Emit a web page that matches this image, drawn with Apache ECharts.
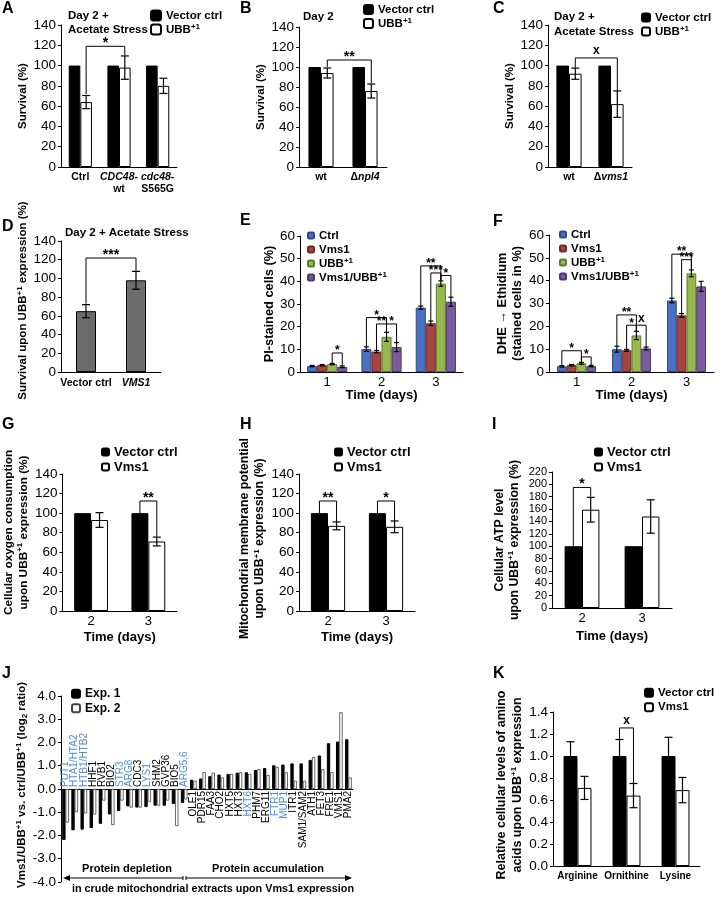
<!DOCTYPE html>
<html>
<head>
<meta charset="utf-8">
<script src="https://cdn.jsdelivr.net/npm/echarts@6/dist/echarts.min.js"></script>
<style>
  html, body { margin: 0; padding: 0; background: #fff; }
  #main { width: 721px; height: 898px; }
</style>
</head>
<body>
<div id="main"></div>
<script>
// ---- data ----
// A
const catsA = ['Ctrl', 'CDC48-wt', 'cdc48-S565G'];
const ctrlA = [100, 100, 100];
const ubbA = [64, 98, 80];
const ubbErrA = [6.5, 11.5, 7.5];
// B
const catsB = ['wt', 'npl4'];
const ctrlB = [100, 100];
const ubbB = [94, 76];
const ubbErrB = [5, 7];
// C
const catsC = ['wt', 'vms1'];
const ctrlC = [100, 100];
const ubbC = [92, 62];
const ubbErrC = [5.5, 13];
// D
const catsD = ['Vector ctrl', 'VMS1'];
const survD = [65, 98];
const survErrD = [7, 9.5];
// E (PI staining)
const days = ['1', '2', '3'];
const ctrlE = [2.6, 10.1, 28.4];
const ctrlErrE = [0.3, 1.0, 0.7];
const vmsE = [3.0, 9.0, 21.5];
const vmsErrE = [0.3, 0.5, 1.0];
const ubbE = [3.5, 15.5, 39.0];
const ubbErrE = [0.3, 2.0, 1.2];
const bothE = [2.3, 11.0, 31.0];
const bothErrE = [0.4, 2.0, 2.0];
// F (DHE -> ethidium)
const ctrlF = [2.5, 10.0, 31.3];
const ctrlErrF = [0.3, 1.3, 1.0];
const vmsF = [3.0, 9.5, 24.8];
const vmsErrF = [0.3, 0.4, 0.8];
const ubbF = [3.8, 16.0, 43.2];
const ubbErrF = [0.4, 1.8, 1.5];
const bothF = [2.6, 10.3, 37.5];
const bothErrF = [0.3, 0.6, 2.2];
// G, H, I
const daysGHI = ['2', '3'];
const ctrlG = [100, 100];
const vmsG = [93, 71];
const vmsErrG = [7.5, 4.5];
const ctrlH = [100, 100];
const vmsH = [87, 86];
const vmsErrH = [4, 6];
const ctrlI = [100, 100];
const vmsI = [159, 148];
const vmsErrI = [20, 27];
// J
const genesJ = ['PUT1', 'HTA1/HTA2', 'HTB1/HTB2', 'HHF1', 'RVB1', 'BIO2', 'STR3', 'ARG8', 'CDC3', 'LYS1',
  'SHM2', 'GVP36', 'BIO5', 'ARG5,6', 'OLE1', 'PDR15', 'FAA3', 'CHO2', 'HXT5', 'HXT3', 'HXT6', 'PHM7',
  'ERG11', 'FTR1', 'MUP1', 'ITR1', 'SAM1/SAM2', 'ATH1', 'FET3', 'FRE1', 'VMS1', 'PMA2'];
const exp1J = [-2.2, -1.78, -1.75, -1.68, -1.5, -1.1, -0.95, -0.75, -0.8, -0.78, -0.72, -0.72, -0.65, -0.6,
  0.4, 0.45, 0.55, 0.62, 0.65, 0.7, 0.72, 0.82, 0.9, 1.02, 1.05, 1.1, 1.1, 1.25, 1.44, 1.97, 2.04, 2.14];
const exp2J = [-1.45, -1.0, -1.05, -1.1, -0.5, -1.55, -0.5, -0.8, -0.8, -0.55, -0.72, -0.5, -1.6, -0.45,
  0.35, 0.73, 0.7, 0.5, 0.65, 0.72, 0.65, 0.85, 0.6, 0.95, 0.72, 0.35, 0.35, 1.37, 0.85, 0.72, 3.3, 0.49];
const blueGenes = ['PUT1', 'HTA1/HTA2', 'HTB1/HTB2', 'STR3', 'ARG8', 'LYS1', 'ARG5,6', 'HXT6', 'FTR1', 'MUP1'];
// K
const catsK = ['Arginine', 'Ornithine', 'Lysine'];
const ctrlK = [1.0, 1.0, 1.0];
const ctrlErrK = [0.13, 0.15, 0.17];
const vmsK = [0.71, 0.64, 0.69];
const vmsErrK = [0.105, 0.11, 0.115];

// ---- helpers ----
const FONT = '"Liberation Sans", Arial, Helvetica, sans-serif';
const BLUE = '#4a70c0', RED = '#a84440', GREEN = '#96b84e', PURPLE = '#7a5b9f';
const RICH = {
  sup: { fontSize: 8, fontWeight: 'bold', fontFamily: FONT, color: '#000', verticalAlign: 'top' },
  sub: { fontSize: 8, fontWeight: 'bold', fontFamily: FONT, color: '#000', verticalAlign: 'bottom' },
  i: { fontStyle: 'italic', fontWeight: 'bold', fontFamily: FONT, color: '#000', fontSize: 10.5 },
};
const legendNames = {
  'UBB+1': 'UBB{sup|+1}',
  'e-ctrl': 'Ctrl', 'e-vms': 'Vms1', 'e-ubb': 'UBB{sup|+1}', 'e-both': 'Vms1/UBB{sup|+1}',
};

const grids = [], xAxes = [], yAxes = [], series = [], legends = [];

function errRender(k, n, gap, cap) {
  return function (params, api) {
    const band = api.size([1, 0])[0];
    const group = band * (1 - gap);
    const bw = group / n;
    const x = api.coord([api.value(0), 0])[0] - group / 2 + (k + 0.5) * bw;
    const hi = api.coord([api.value(0), api.value(1) + api.value(2)])[1];
    const lo = api.coord([api.value(0), api.value(1) - api.value(2)])[1];
    const st = { stroke: '#000', lineWidth: 1.2 };
    return {
      type: 'group', children: [
        { type: 'line', shape: { x1: x, y1: hi, x2: x, y2: lo }, style: st },
        { type: 'line', shape: { x1: x - cap, y1: hi, x2: x + cap, y2: hi }, style: st },
        { type: 'line', shape: { x1: x - cap, y1: lo, x2: x + cap, y2: lo }, style: st },
      ],
    };
  };
}

function bracketRender(n, gap, list, size) {
  return function (params, api) {
    const b = list[params.dataIndex];
    const band = api.size([1, 0])[0];
    const group = band * (1 - gap);
    const bw = group / n;
    const xOf = (c, k) => api.coord([c, 0])[0] - group / 2 + (k + 0.5) * bw;
    const x1 = xOf(b[0], b[1]), x2 = xOf(b[3], b[4]);
    const y1 = api.coord([b[0], b[2]])[1];
    const y2 = api.coord([b[3], b[5]])[1];
    const yt = api.coord([b[0], b[6]])[1];
    const isX = b[7] === 'x';
    return {
      type: 'group', children: [
        { type: 'polyline', shape: { points: [[x1, y1], [x1, yt], [x2, yt], [x2, y2]] },
          style: { stroke: '#000', fill: null, lineWidth: 1 } },
        { type: 'text', x: (x1 + x2) / 2, y: yt + (isX ? -1 : 4),
          style: { text: b[7], font: 'bold ' + (isX ? 12 : size) + 'px ' + FONT, fill: '#000', align: 'center', verticalAlign: 'bottom' } },
      ],
    };
  };
}

function panel(p) {
  const gi = grids.length;
  grids.push({ left: p.left, top: p.top, width: p.width, height: p.height });
  xAxes.push({
    type: 'category', gridIndex: gi, data: p.cats,
    axisLine: { lineStyle: { color: '#000', width: 1 } },
    axisTick: { length: 4, lineStyle: { color: '#000' } },
    axisLabel: {
      color: '#000', fontFamily: FONT, fontSize: p.catSize || 10.5, fontWeight: p.catBold === false ? 'normal' : 'bold',
      margin: p.catMargin || 4, interval: 0, lineHeight: 12, formatter: p.catFmt, rich: RICH,
    },
    name: p.xName || '', nameLocation: 'middle', nameGap: p.xNameGap || 20,
    nameTextStyle: { color: '#000', fontFamily: FONT, fontWeight: 'bold', fontSize: 13 },
  });
  yAxes.push({
    type: 'value', gridIndex: gi, min: p.yMin || 0, max: p.yMax, interval: p.yStep,
    splitLine: { show: false },
    axisLine: { show: true, lineStyle: { color: '#000', width: 1 } },
    axisTick: { show: true, length: 3, lineStyle: { color: '#000' } },
    axisLabel: {
      color: '#000', fontFamily: FONT, fontSize: p.ySize || 13.5, margin: 5, formatter: p.yFmt,
      showMinLabel: true, showMaxLabel: true, hideOverlap: false, lineHeight: p.yLH,
    },
    name: p.yName, nameLocation: 'middle', nameRotate: 90, nameGap: p.yNameGap,
    nameTextStyle: {
      color: '#000', fontFamily: FONT, fontWeight: 'bold', fontSize: p.yNameSize || 11.5,
      lineHeight: p.yNameLH || 14, rich: RICH, padding: [0, 0, 0, p.yNameShift || 0],
    },
  });
  const n = p.series.length;
  p.series.forEach((s) => {
    series.push({
      type: 'bar', name: s.name, xAxisIndex: gi, yAxisIndex: gi, data: s.data,
      barGap: '0%', barCategoryGap: (p.gap * 100) + '%', silent: true,
      itemStyle: { color: s.color, borderColor: s.border || '#000', borderWidth: s.bw === undefined ? 1 : s.bw },
    });
  });
  p.series.forEach((s, k) => {
    if (!s.err) return;
    series.push({
      type: 'custom', xAxisIndex: gi, yAxisIndex: gi, silent: true, z: 5,
      data: s.data.map((v, i) => [i, v, s.err[i]]), encode: { x: 0, y: 1 },
      renderItem: errRender(k, n, p.gap, p.cap || 4),
    });
  });
  if (p.brackets) {
    series.push({
      type: 'custom', xAxisIndex: gi, yAxisIndex: gi, silent: true, z: 6,
      data: p.brackets.map((b) => b.slice(0, 7)), encode: { x: 0, y: 6 },
      renderItem: bracketRender(n, p.gap, p.brackets, p.starSize || 14),
    });
  }
  if (p.legend) {
    legends.push(Object.assign({
      orient: 'vertical', selectedMode: false, itemGap: 1, padding: 0,
      data: p.series.map((s) => s.name),
      formatter: (name) => legendNames[name] || name,
      textStyle: {
        color: '#000', fontFamily: FONT, fontWeight: 'bold', fontSize: p.legend.size || 11.5,
        lineHeight: p.legend.lh || 13, rich: RICH,
      },
    }, p.legend.pos));
  }
  return gi;
}

const blackBar = (name, data) => ({ name, data, color: '#000' });
const whiteBar = (name, data, err) => ({ name, data, err, color: '#fff' });

// ---- panels ----
panel({
  left: 61, top: 25, width: 116, height: 142, cats: catsA, gap: 0.4,
  yMax: 140, yStep: 20, yName: 'Survival (%)', yNameGap: 25,
  catFmt: (v) => ({ 'CDC48-wt': '{i|CDC48}-\nwt', 'cdc48-S565G': '{i|cdc48}-\nS565G' }[v] || v),
  series: [blackBar('Vector ctrl', ctrlA), whiteBar('UBB+1', ubbA, ubbErrA)],
  brackets: [[0, 1, 72, 1, 1, 110, 119, '*']],
  legend: { pos: { left: 150, top: 9, itemWidth: 10, itemHeight: 10 } },
});
panel({
  left: 299, top: 27, width: 88, height: 140, cats: catsB, gap: 0.43,
  yMax: 140, yStep: 20, yName: 'Survival (%)', yNameGap: 24,
  catFmt: (v) => (v === 'npl4' ? 'Δ{i|npl4}' : v),
  series: [blackBar('Vector ctrl', ctrlB), whiteBar('UBB+1', ubbB, ubbErrB)],
  brackets: [[0, 1, 100, 1, 1, 84, 107, '**']],
  legend: { pos: { left: 363, top: 3, itemWidth: 9, itemHeight: 9 } },
});
panel({
  left: 548, top: 25, width: 84, height: 142, cats: catsC, gap: 0.4,
  yMax: 140, yStep: 20, yName: 'Survival (%)', yNameGap: 21,
  catFmt: (v) => (v === 'vms1' ? 'Δ{i|vms1}' : v),
  series: [blackBar('Vector ctrl', ctrlC), whiteBar('UBB+1', ubbC, ubbErrC)],
  brackets: [[0, 1, 98, 1, 1, 75, 107.5, 'x']],
  legend: { pos: { left: 641, top: 11, itemWidth: 8, itemHeight: 8 } },
});
panel({
  left: 61, top: 241, width: 100, height: 131, cats: catsD, gap: 0.6, catMargin: 5,
  yMax: 140, yStep: 20, yName: 'Survival upon UBB{sup|+1} expression (%)', yNameGap: 29, yNameShift: 12,
  catFmt: (v) => (v === 'VMS1' ? '{i|VMS1}' : v),
  series: [{ name: 'survD', data: survD, err: survErrD, color: '#6b6b6b' }],
  brackets: [[0, 0, 73, 1, 0, 108, 121.8, '***']],
});
const eSeries = (c, v, u, b, ce, ve, ue, be) => [
  { name: 'e-ctrl', data: c, err: ce, color: BLUE, border: '#2c4a8a' },
  { name: 'e-vms', data: v, err: ve, color: RED, border: '#6e2826' },
  { name: 'e-ubb', data: u, err: ue, color: GREEN, border: '#5e7a2c' },
  { name: 'e-both', data: b, err: be, color: PURPLE, border: '#4b376a' },
];
panel({
  left: 300, top: 236, width: 163, height: 136, cats: days, gap: 0.26, cap: 2.5,
  catBold: false, catSize: 13, xName: 'Time (days)', xNameGap: 17, starSize: 12,
  yMax: 60, yStep: 10, yName: 'PI-stained cells (%)', yNameGap: 20, yNameSize: 12.8,
  series: eSeries(ctrlE, vmsE, ubbE, bothE, ctrlErrE, vmsErrE, ubbErrE, bothErrE),
  brackets: [
    [0, 2, 4.0, 0, 3, 3.0, 8.4, '*'],
    [1, 0, 11.3, 1, 2, 17.6, 24, '*'],
    [1, 1, 9.6, 1, 2, 17.6, 21.2, '**'],
    [1, 2, 17.6, 1, 3, 13.1, 21.2, '*'],
    [2, 0, 29.2, 2, 2, 40.3, 46.8, '**'],
    [2, 1, 22.6, 2, 2, 40.3, 43.7, '***'],
    [2, 2, 40.3, 2, 3, 33.1, 42.6, '*'],
  ],
  legend: { pos: { left: 307, top: 229, itemWidth: 6, itemHeight: 6 }, lh: 13 },
});
panel({
  left: 549, top: 235, width: 165, height: 137, cats: days, gap: 0.29, cap: 2.5,
  catBold: false, catSize: 13, xName: 'Time (days)', xNameGap: 17, starSize: 12,
  yMax: 60, yStep: 10, yName: 'DHE → Ethidium\n(stained cells in %)', yNameGap: 19, yNameSize: 12.8, yNameLH: 15,
  series: eSeries(ctrlF, vmsF, ubbF, bothF, ctrlErrF, vmsErrF, ubbErrF, bothErrF),
  brackets: [
    [0, 0, 2.9, 0, 2, 4.3, 9.3, '*'],
    [0, 2, 4.3, 0, 3, 3.0, 6.6, '*'],
    [1, 0, 11.4, 1, 2, 17.9, 25, '**'],
    [1, 1, 10.0, 1, 2, 17.9, 20.5, '*'],
    [1, 2, 17.9, 1, 3, 11.0, 20.5, 'x'],
    [2, 0, 32.4, 2, 2, 44.8, 51.6, '**'],
    [2, 1, 25.7, 2, 2, 44.8, 49.2, '***'],
  ],
  legend: { pos: { left: 559, top: 228, itemWidth: 6, itemHeight: 6 }, lh: 13 },
});
panel({
  left: 61, top: 474, width: 116, height: 137, cats: daysGHI, gap: 0.41,
  catBold: false, catSize: 13, xName: 'Time (days)', xNameGap: 20,
  yMax: 140, yStep: 20, yNameSize: 11.8, yNameLH: 15, yNameShift: 20,
  yName: 'Cellular oxygen consumption\nupon UBB{sup|+1} expression (%)', yNameGap: 29,
  series: [blackBar('Vector ctrl', ctrlG), whiteBar('Vms1', vmsG, vmsErrG)],
  brackets: [[1, 0, 100, 1, 1, 76, 112.4, '**']],
  legend: { pos: { left: 101, top: 445, itemWidth: 7, itemHeight: 7 }, size: 13, lh: 14 },
});
panel({
  left: 299, top: 474, width: 116, height: 137, cats: daysGHI, gap: 0.41,
  catBold: false, catSize: 13, xName: 'Time (days)', xNameGap: 20,
  yMax: 140, yStep: 20, yNameSize: 12.3, yNameLH: 15, yNameShift: 8,
  yName: 'Mitochondrial membrane potential\nupon UBB{sup|+1} expression (%)', yNameGap: 29,
  series: [blackBar('Vector ctrl', ctrlH), whiteBar('Vms1', vmsH, vmsErrH)],
  brackets: [[0, 0, 100, 0, 1, 91, 112.4, '**'], [1, 0, 100, 1, 1, 92, 112.4, '*']],
  legend: { pos: { left: 334, top: 445, itemWidth: 7, itemHeight: 7 }, size: 13, lh: 14 },
});
panel({
  left: 552, top: 472, width: 120, height: 136, cats: daysGHI, gap: 0.42,
  catBold: false, catSize: 13, xName: 'Time (days)', xNameGap: 22,
  yMax: 220, yStep: 20, yNameSize: 12.3, yNameLH: 15, ySize: 11, yLH: 10,
  yName: 'Cellular ATP level\nupon UBB{sup|+1} expression (%)', yNameGap: 30,
  series: [blackBar('Vector ctrl', ctrlI), whiteBar('Vms1', vmsI, vmsErrI)],
  brackets: [[0, 0, 100, 0, 1, 180, 195, '*']],
  legend: { pos: { left: 594, top: 445, itemWidth: 7, itemHeight: 7 }, size: 13, lh: 14 },
});
const gJ = panel({
  left: 61, top: 696, width: 292, height: 192, cats: genesJ, gap: 0.27, cap: 0,
  yMin: -4, yMax: 4, yStep: 1, yFmt: (v) => v.toFixed(1), yNameSize: 11.5, yNameShift: 8,
  yName: 'Vms1/UBB{sup|+1} vs. ctrl/UBB{sup|+1} (log{sub|2} ratio)', yNameGap: 28,
  catFmt: () => '',
  series: [
    { name: 'Exp. 1', data: exp1J, color: '#000' },
    { name: 'Exp. 2', data: exp2J, color: '#fff', border: '#444', bw: 0.8 },
  ],
  legend: { pos: { left: 71, top: 687, itemWidth: 8, itemHeight: 8 }, size: 12, lh: 13.5 },
});
xAxes[gJ].axisTick.length = 3;
series.push({
  type: 'custom', xAxisIndex: gJ, yAxisIndex: gJ, silent: true, z: 7,
  data: exp1J.map((v, i) => [i, v]), encode: { x: 0, y: 1 },
  renderItem: function (params, api) {
    const gene = genesJ[params.dataIndex];
    const neg = api.value(1) < 0;
    const p = api.coord([api.value(0), 0]);
    return {
      type: 'text', x: p[0], y: neg ? p[1] - 2 : p[1] + 2, rotation: Math.PI / 2,
      style: {
        text: gene, font: '10px ' + FONT, fill: blueGenes.includes(gene) ? '#4f8ede' : '#000',
        align: neg ? 'left' : 'right', verticalAlign: 'middle',
      },
    };
  },
});
panel({
  left: 553, top: 712, width: 147, height: 154, cats: catsK, gap: 0.43, catSize: 10,
  yMax: 1.4, yStep: 0.2, yFmt: (v) => v.toFixed(1), yNameSize: 12.5, yNameLH: 16, yNameShift: 8,
  yName: 'Relative cellular levels of amino\nacids upon UBB{sup|+1} expression', yNameGap: 23,
  series: [
    { name: 'Vector ctrl', data: ctrlK, err: ctrlErrK, color: '#000' },
    whiteBar('Vms1', vmsK, vmsErrK),
  ],
  brackets: [[1, 0, 1.15, 1, 1, 0.75, 1.255, 'x']],
  legend: { pos: { left: 644, top: 686, itemWidth: 8, itemHeight: 8 }, size: 11.5, lh: 13.5 },
});

// ---- panel letters, titles, J annotations ----
const letter = (t, x, y) => ({
  type: 'text', x, y, style: { text: t, font: 'bold 16px ' + FONT, fill: '#000', verticalAlign: 'top' },
});
const label = (t, x, y, size, align, lh) => ({
  type: 'text', x, y,
  style: { text: t, font: 'bold ' + size + 'px ' + FONT, fill: '#000', align: align || 'left', verticalAlign: 'top', lineHeight: lh || size + 3 },
});
const arrowY = 878;
const graphics = [
  letter('A', 2, 1), letter('B', 240, 1), letter('C', 493, 1),
  letter('D', 2, 219), letter('E', 240, 213), letter('F', 493, 214),
  letter('G', 2, 417), letter('H', 240, 417), letter('I', 492, 417),
  letter('J', 2, 666), letter('K', 493, 666),
  label('Day 2 +\nAcetate Stress', 68, 9, 11.5, 'left', 14),
  label('Day 2', 303, 10, 11.5),
  label('Day 2 +\nAcetate Stress', 554, 9, 11.5, 'left', 15),
  label('Day 2 + Acetate Stress', 65, 226, 11.5),
  label('Protein depletion', 127, 862, 11, 'center'),
  label('Protein accumulation', 268, 862, 11, 'center'),
  label('in crude mitochondrial extracts upon Vms1 expression', 72, 882, 10.8),
  { type: 'line', shape: { x1: 66, y1: arrowY, x2: 183, y2: arrowY }, style: { stroke: '#000', lineWidth: 1 } },
  { type: 'line', shape: { x1: 186, y1: arrowY, x2: 349, y2: arrowY }, style: { stroke: '#000', lineWidth: 1 } },
  { type: 'line', shape: { x1: 183, y1: arrowY - 2, x2: 183, y2: arrowY + 2 }, style: { stroke: '#000', lineWidth: 1 } },
  { type: 'line', shape: { x1: 186, y1: arrowY - 2, x2: 186, y2: arrowY + 2 }, style: { stroke: '#000', lineWidth: 1 } },
  { type: 'polygon', shape: { points: [[63, arrowY], [70, arrowY - 3], [70, arrowY + 3]] }, style: { fill: '#000' } },
  { type: 'polygon', shape: { points: [[352, arrowY], [345, arrowY - 3], [345, arrowY + 3]] }, style: { fill: '#000' } },
];

const chart = echarts.init(document.getElementById('main'));
chart.setOption({
  animation: false,
  backgroundColor: '#fff',
  textStyle: { fontFamily: FONT },
  grid: grids,
  xAxis: xAxes,
  yAxis: yAxes,
  series: series,
  legend: legends,
  graphic: graphics,
});
</script>
</body>
</html>
